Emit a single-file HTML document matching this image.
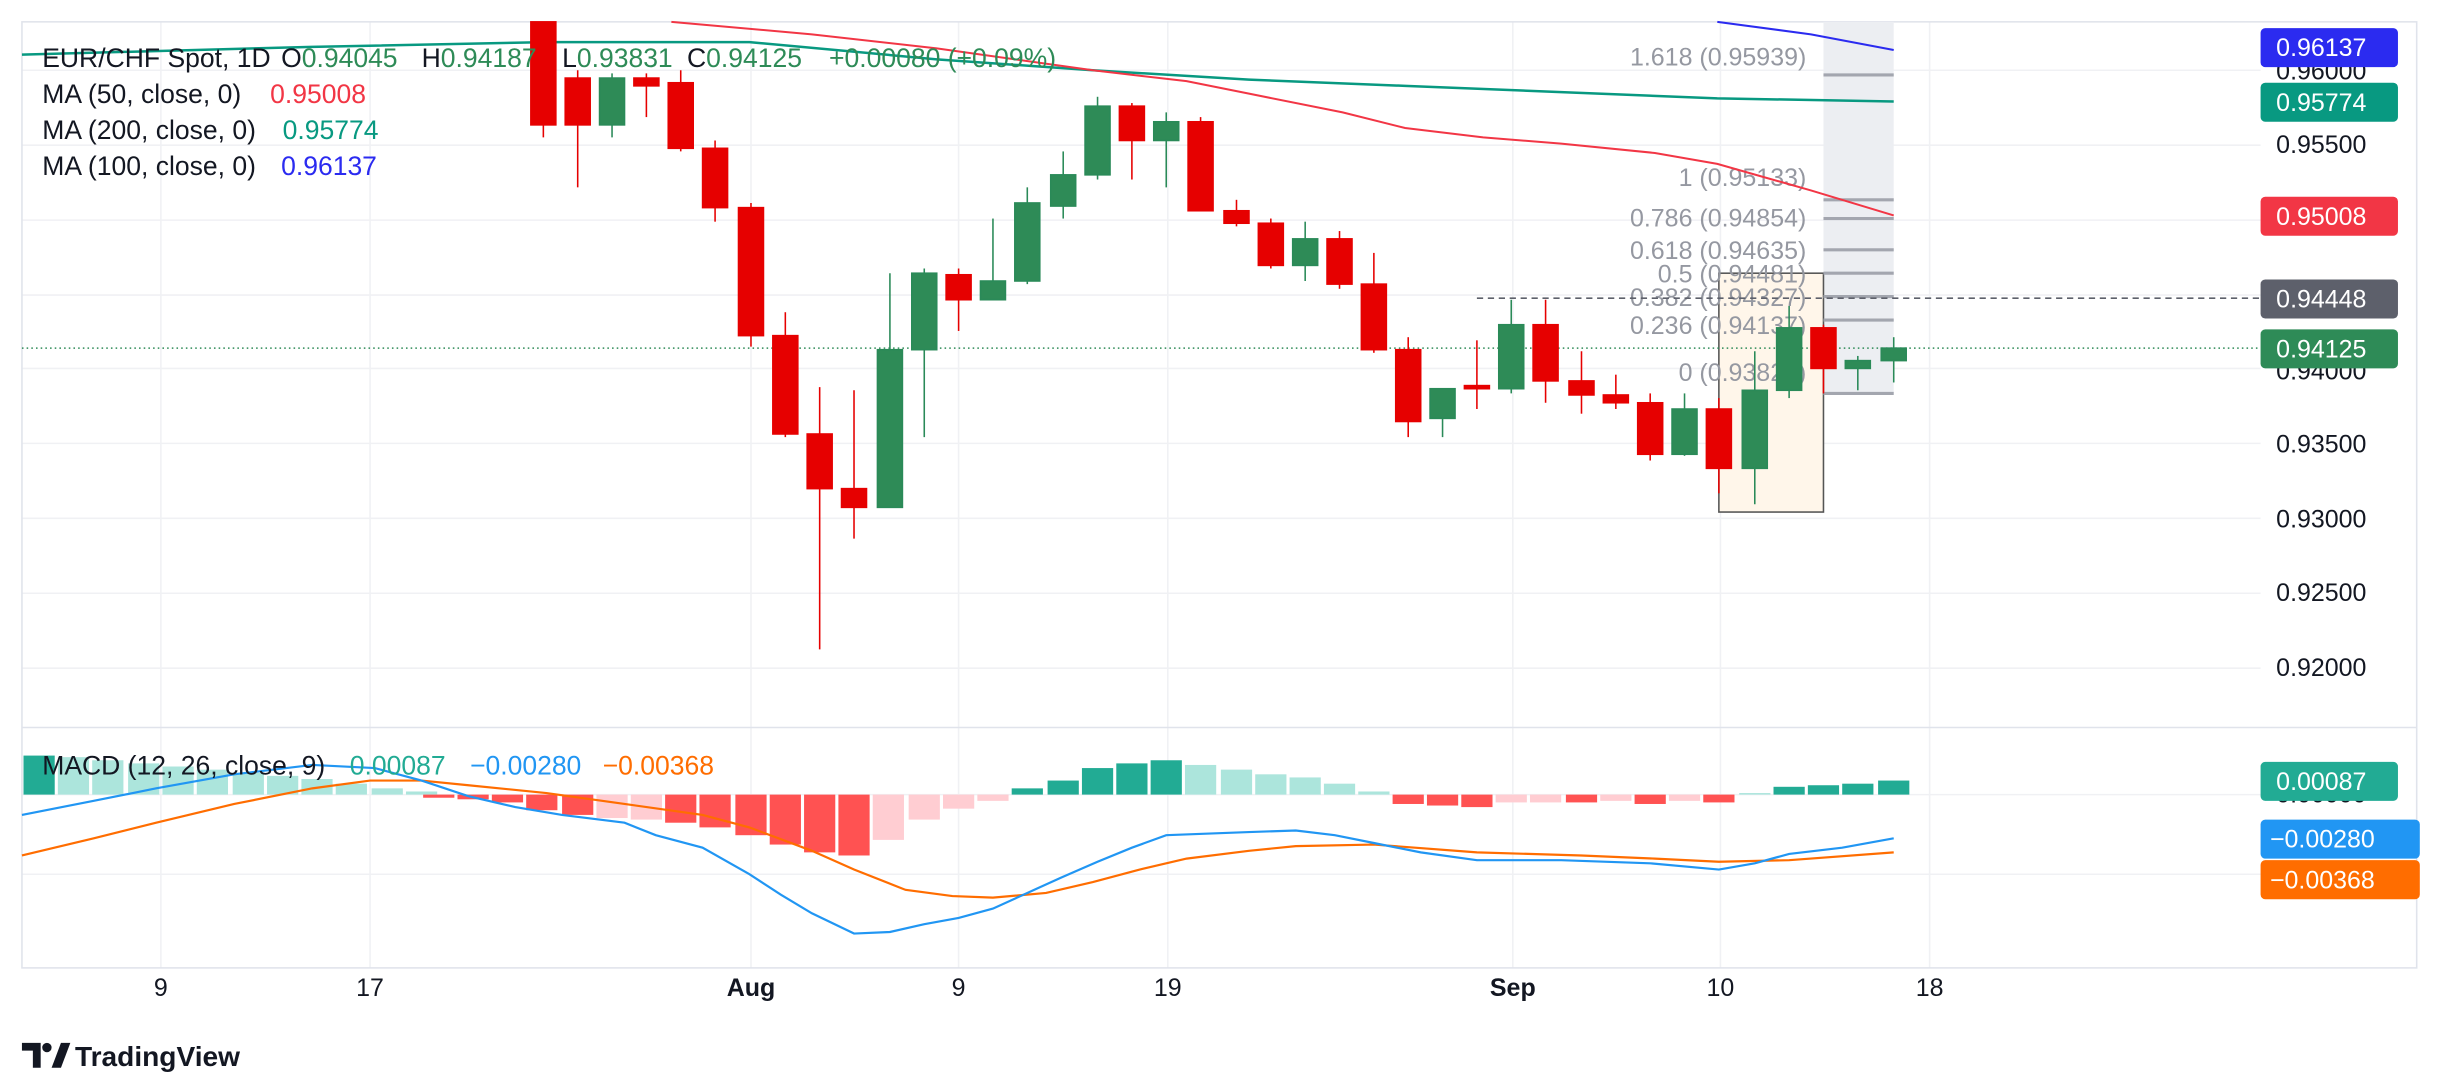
<!DOCTYPE html>
<html><head><meta charset="utf-8"><style>
html,body{margin:0;padding:0;background:#fff}
svg{display:block}
text{font-family:"Liberation Sans",Arial,sans-serif;white-space:pre}
</style></head><body>
<svg width="2448" height="1092" viewBox="0 0 1568 699.5" xmlns="http://www.w3.org/2000/svg" xml:space="preserve">
<rect width="1568" height="700" fill="#fff"/>
<g stroke="#f0f1f4" stroke-width="1">
<line x1="103" y1="14" x2="103" y2="620"/><line x1="237" y1="14" x2="237" y2="620"/><line x1="481" y1="14" x2="481" y2="620"/><line x1="614" y1="14" x2="614" y2="620"/><line x1="748" y1="14" x2="748" y2="620"/><line x1="969" y1="14" x2="969" y2="620"/><line x1="1102" y1="14" x2="1102" y2="620"/><line x1="1236" y1="14" x2="1236" y2="620"/>
<line x1="14" y1="45" x2="1448" y2="45"/><line x1="14" y1="93" x2="1448" y2="93"/><line x1="14" y1="141" x2="1448" y2="141"/><line x1="14" y1="189" x2="1448" y2="189"/><line x1="14" y1="236" x2="1448" y2="236"/><line x1="14" y1="284" x2="1448" y2="284"/><line x1="14" y1="332" x2="1448" y2="332"/><line x1="14" y1="380" x2="1448" y2="380"/><line x1="14" y1="428" x2="1448" y2="428"/>
<line x1="14" y1="509" x2="1448" y2="509"/><line x1="14" y1="560" x2="1448" y2="560"/>
</g>
<g stroke="#e0e3eb" fill="none"><rect x="14" y="14" width="1534" height="606"/><line x1="14" y1="466" x2="1548" y2="466"/></g>
<rect x="1168" y="14" width="45" height="238" fill="#eceef2"/>
<rect x="1101" y="175" width="67" height="153" fill="#fff6ea" stroke="#555" stroke-width="1"/>
<g stroke="#a3a6af" stroke-width="2">
<line x1="1168" y1="48" x2="1213" y2="48"/><line x1="1168" y1="128" x2="1213" y2="128"/><line x1="1168" y1="140" x2="1213" y2="140"/><line x1="1168" y1="160" x2="1213" y2="160"/><line x1="1168" y1="175" x2="1213" y2="175"/><line x1="1168" y1="190" x2="1213" y2="190"/><line x1="1168" y1="205" x2="1213" y2="205"/><line x1="1168" y1="252" x2="1213" y2="252"/>
</g>
<g fill="#9598a1" font-size="16" text-anchor="end">
<text x="1157" y="42">1.618 (0.95939)</text><text x="1157" y="119">1 (0.95133)</text><text x="1157" y="145">0.786 (0.94854)</text><text x="1157" y="166">0.618 (0.94635)</text><text x="1157" y="181">0.5 (0.94481)</text><text x="1157" y="196">0.382 (0.94327)</text><text x="1157" y="214">0.236 (0.94137)</text><text x="1157" y="244">0 (0.93821)</text>
</g>
<line x1="946" y1="191" x2="1448" y2="191" stroke="#5d606b" stroke-dasharray="4,3"/>
<line x1="14" y1="223" x2="1448" y2="223" stroke="#2e8b57" stroke-dasharray="1,2"/>
<polyline fill="none" stroke="#089981" stroke-width="1.6" points="14,35 200,30 350,27 480,27 600,38 700,45 800,51 900,55 1000,59 1100,63 1213,65"/>
<polyline fill="none" stroke="#f23645" stroke-width="1.3" points="430,14 520,22 600,31 700,45 760,52 800,60 860,72 900,82 950,88 1000,92 1060,98 1100,105 1160,122 1213,138"/>
<polyline fill="none" stroke="#2b2bf0" stroke-width="1.3" points="1100,14 1160,22 1213,32"/>
<g stroke="#e60000" fill="#e60000">
<line x1="348" y1="14" x2="348" y2="88"/><rect x="340" y="14" width="16" height="66"/>
<line x1="370" y1="45" x2="370" y2="120"/><rect x="362" y="50" width="16" height="30"/>
<line x1="414" y1="47" x2="414" y2="75"/><rect x="406" y="50" width="16" height="5"/>
<line x1="436" y1="45" x2="436" y2="97"/><rect x="428" y="53" width="16" height="42"/>
<line x1="458" y1="90" x2="458" y2="142"/><rect x="450" y="95" width="16" height="38"/>
<line x1="481" y1="130" x2="481" y2="222"/><rect x="473" y="133" width="16" height="82"/>
<line x1="503" y1="200" x2="503" y2="280"/><rect x="495" y="215" width="16" height="63"/>
<line x1="525" y1="248" x2="525" y2="416"/><rect x="517" y="278" width="16" height="35"/>
<line x1="547" y1="250" x2="547" y2="345"/><rect x="539" y="313" width="16" height="12"/>
<line x1="614" y1="172" x2="614" y2="212"/><rect x="606" y="176" width="16" height="16"/>
<line x1="725" y1="66" x2="725" y2="115"/><rect x="717" y="68" width="16" height="22"/>
<line x1="769" y1="75" x2="769" y2="135"/><rect x="761" y="78" width="16" height="57"/>
<line x1="792" y1="128" x2="792" y2="145"/><rect x="784" y="135" width="16" height="8"/>
<line x1="814" y1="140" x2="814" y2="172"/><rect x="806" y="143" width="16" height="27"/>
<line x1="858" y1="148" x2="858" y2="185"/><rect x="850" y="153" width="16" height="29"/>
<line x1="880" y1="162" x2="880" y2="226"/><rect x="872" y="182" width="16" height="42"/>
<line x1="902" y1="216" x2="902" y2="280"/><rect x="894" y="224" width="16" height="46"/>
<line x1="946" y1="218" x2="946" y2="262"/><rect x="938" y="247" width="16" height="2"/>
<line x1="990" y1="192" x2="990" y2="258"/><rect x="982" y="208" width="16" height="36"/>
<line x1="1013" y1="225" x2="1013" y2="265"/><rect x="1005" y="244" width="16" height="9"/>
<line x1="1035" y1="240" x2="1035" y2="262"/><rect x="1027" y="253" width="16" height="5"/>
<line x1="1057" y1="252" x2="1057" y2="295"/><rect x="1049" y="258" width="16" height="33"/>
<line x1="1101" y1="255" x2="1101" y2="316"/><rect x="1093" y="262" width="16" height="38"/>
<line x1="1168" y1="208" x2="1168" y2="252"/><rect x="1160" y="210" width="16" height="26"/>
</g>
<g stroke="#2a8a58" fill="#2e8b57">
<line x1="392" y1="47" x2="392" y2="88"/><rect x="384" y="50" width="16" height="30"/>
<line x1="570" y1="175" x2="570" y2="325"/><rect x="562" y="224" width="16" height="101"/>
<line x1="592" y1="172" x2="592" y2="280"/><rect x="584" y="175" width="16" height="49"/>
<line x1="636" y1="140" x2="636" y2="192"/><rect x="628" y="180" width="16" height="12"/>
<line x1="658" y1="120" x2="658" y2="182"/><rect x="650" y="130" width="16" height="50"/>
<line x1="681" y1="97" x2="681" y2="140"/><rect x="673" y="112" width="16" height="20"/>
<line x1="703" y1="62" x2="703" y2="115"/><rect x="695" y="68" width="16" height="44"/>
<line x1="747" y1="72" x2="747" y2="120"/><rect x="739" y="78" width="16" height="12"/>
<line x1="836" y1="142" x2="836" y2="180"/><rect x="828" y="153" width="16" height="17"/>
<line x1="924" y1="249" x2="924" y2="280"/><rect x="916" y="249" width="16" height="19"/>
<line x1="968" y1="192" x2="968" y2="252"/><rect x="960" y="208" width="16" height="41"/>
<line x1="1079" y1="252" x2="1079" y2="292"/><rect x="1071" y="262" width="16" height="29"/>
<line x1="1124" y1="225" x2="1124" y2="323"/><rect x="1116" y="250" width="16" height="50"/>
<line x1="1146" y1="196" x2="1146" y2="255"/><rect x="1138" y="210" width="16" height="40"/>
<line x1="1190" y1="228" x2="1190" y2="250"/><rect x="1182" y="231" width="16" height="5"/>
<line x1="1213" y1="216" x2="1213" y2="245"/><rect x="1205" y="223" width="16" height="8"/>
</g>
<g font-size="17" fill="#131722">
<text x="27" y="43">EUR/CHF Spot, 1D</text>
<text x="180" y="43">O<tspan fill="#2e8b57">0.94045</tspan></text>
<text x="270" y="43">H<tspan fill="#2e8b57">0.94187</tspan></text>
<text x="360" y="43">L<tspan fill="#2e8b57">0.93831</tspan></text>
<text x="440" y="43">C<tspan fill="#2e8b57">0.94125</tspan></text>
<text x="531" y="43" fill="#2e8b57">+0.00080 (+0.09%)</text>
<text x="27" y="66">MA (50, close, 0)</text><text x="173" y="66" fill="#f23645">0.95008</text>
<text x="27" y="89">MA (200, close, 0)</text><text x="181" y="89" fill="#089981">0.95774</text>
<text x="27" y="112">MA (100, close, 0)</text><text x="180" y="112" fill="#2b2bf0">0.96137</text>
</g>
<g font-size="16" fill="#131722">
<text x="1458" y="51">0.96000</text><text x="1458" y="98">0.95500</text><text x="1458" y="243">0.94000</text><text x="1458" y="290">0.93500</text><text x="1458" y="338">0.93000</text><text x="1458" y="385">0.92500</text><text x="1458" y="433">0.92000</text>
<text x="1458" y="514">0.00000</text>
</g>
<g font-size="16" fill="#fff">
<rect x="1448" y="18" width="88" height="25" rx="3" fill="#2b2bf0"/><text x="1458" y="36">0.96137</text>
<rect x="1448" y="53" width="88" height="25" rx="3" fill="#089981"/><text x="1458" y="71">0.95774</text>
<rect x="1448" y="126" width="88" height="25" rx="3" fill="#f23645"/><text x="1458" y="144">0.95008</text>
<rect x="1448" y="179" width="88" height="25" rx="3" fill="#5d606b"/><text x="1458" y="197">0.94448</text>
<rect x="1448" y="211" width="88" height="25" rx="3" fill="#2e8b57"/><text x="1458" y="229">0.94125</text>
<rect x="1448" y="488" width="88" height="25" rx="3" fill="#22ab94"/><text x="1458" y="506">0.00087</text>
<rect x="1448" y="525" width="102" height="25" rx="3" fill="#2196f3"/><text x="1454" y="543">−0.00280</text>
<rect x="1448" y="551" width="102" height="25" rx="3" fill="#ff6d00"/><text x="1454" y="569">−0.00368</text>
</g>
<g fill="#ace5dc">
<rect x="15" y="484" width="20" height="25" fill="#22ab94"/>
<rect x="37" y="485" width="20" height="24"/><rect x="59" y="487" width="20" height="22"/><rect x="82" y="489" width="20" height="20"/><rect x="104" y="491" width="20" height="18"/><rect x="126" y="493" width="20" height="16"/><rect x="149" y="495" width="20" height="14"/><rect x="171" y="497" width="20" height="12"/><rect x="193" y="499" width="20" height="10"/><rect x="215" y="502" width="20" height="7"/><rect x="238" y="505" width="20" height="4"/><rect x="260" y="507" width="20" height="2"/>
<rect x="648" y="505" width="20" height="4" fill="#22ab94"/><rect x="671" y="500" width="20" height="9" fill="#22ab94"/><rect x="693" y="492" width="20" height="17" fill="#22ab94"/><rect x="715" y="489" width="20" height="20" fill="#22ab94"/><rect x="737" y="487" width="20" height="22" fill="#22ab94"/>
<rect x="759" y="490" width="20" height="19"/><rect x="782" y="493" width="20" height="16"/><rect x="804" y="496" width="20" height="13"/><rect x="826" y="498" width="20" height="11"/><rect x="848" y="502" width="20" height="7"/><rect x="870" y="507" width="20" height="2"/>
<rect x="1114" y="508" width="20" height="1"/>
<rect x="1136" y="504" width="20" height="5" fill="#22ab94"/><rect x="1158" y="503" width="20" height="6" fill="#22ab94"/><rect x="1180" y="502" width="20" height="7" fill="#22ab94"/><rect x="1203" y="500" width="20" height="9" fill="#22ab94"/>
</g>
<g fill="#ff5252">
<rect x="271" y="509" width="20" height="2"/><rect x="293" y="509" width="20" height="3"/><rect x="315" y="509" width="20" height="5"/><rect x="337" y="509" width="20" height="10"/><rect x="360" y="509" width="20" height="13"/><rect x="382" y="509" width="20" height="15" fill="#ffcdd2"/><rect x="404" y="509" width="20" height="16" fill="#ffcdd2"/><rect x="426" y="509" width="20" height="18"/><rect x="448" y="509" width="20" height="21"/><rect x="471" y="509" width="20" height="26"/><rect x="493" y="509" width="20" height="32"/><rect x="515" y="509" width="20" height="37"/><rect x="537" y="509" width="20" height="39"/>
<rect x="559" y="509" width="20" height="29" fill="#ffcdd2"/><rect x="582" y="509" width="20" height="16" fill="#ffcdd2"/><rect x="604" y="509" width="20" height="9" fill="#ffcdd2"/><rect x="626" y="509" width="20" height="4" fill="#ffcdd2"/>
<rect x="892" y="509" width="20" height="6"/><rect x="914" y="509" width="20" height="7"/><rect x="936" y="509" width="20" height="8"/>
<rect x="958" y="509" width="20" height="5" fill="#ffcdd2"/><rect x="980" y="509" width="20" height="5" fill="#ffcdd2"/><rect x="1003" y="509" width="20" height="5"/><rect x="1025" y="509" width="20" height="4" fill="#ffcdd2"/><rect x="1047" y="509" width="20" height="6"/><rect x="1069" y="509" width="20" height="4" fill="#ffcdd2"/><rect x="1091" y="509" width="20" height="5"/>
</g>
<polyline fill="none" stroke="#ff6d00" stroke-width="1.4" points="14,548 60,537 100,527 150,515 200,505 237,500 270,500 300,503 350,508 400,515 450,522 480,530 520,545 547,557 580,570 610,574 636,575 670,572 700,565 730,557 760,550 800,545 830,542 880,541 946,546 1013,548 1060,550 1101,552 1146,551 1213,546"/>
<polyline fill="none" stroke="#2196f3" stroke-width="1.4" points="14,522 60,513 100,505 150,496 200,490 240,492 270,500 300,510 330,517 360,522 400,527 420,535 450,543 480,560 500,573 520,585 547,598 570,597 592,592 614,588 636,582 658,572 680,562 703,552 725,543 747,535 800,533 830,532 855,535 880,540 910,546 946,551 1000,551 1057,553 1101,557 1124,553 1146,547 1180,543 1213,537"/>
<g font-size="17"><text x="27" y="496" fill="#131722">MACD (12, 26, close, 9)</text><text x="224" y="496" fill="#22ab94">0.00087</text><text x="301" y="496" fill="#2196f3">−0.00280</text><text x="386" y="496" fill="#ff6d00">−0.00368</text></g>
<g font-size="16" fill="#131722" text-anchor="middle">
<text x="103" y="638">9</text><text x="237" y="638">17</text><text x="481" y="638" font-weight="bold">Aug</text><text x="614" y="638">9</text><text x="748" y="638">19</text><text x="969" y="638" font-weight="bold">Sep</text><text x="1102" y="638">10</text><text x="1236" y="638">18</text>
</g>
<g fill="#131722"><path d="M14 668h12v16h-5v-11h-7z"/><circle cx="30" cy="671" r="3"/><path d="M33 684l6-16h6l-6 16z"/></g>
<text x="48" y="683" font-size="18" font-weight="bold" fill="#131722">TradingView</text>
</svg>
</body></html>
